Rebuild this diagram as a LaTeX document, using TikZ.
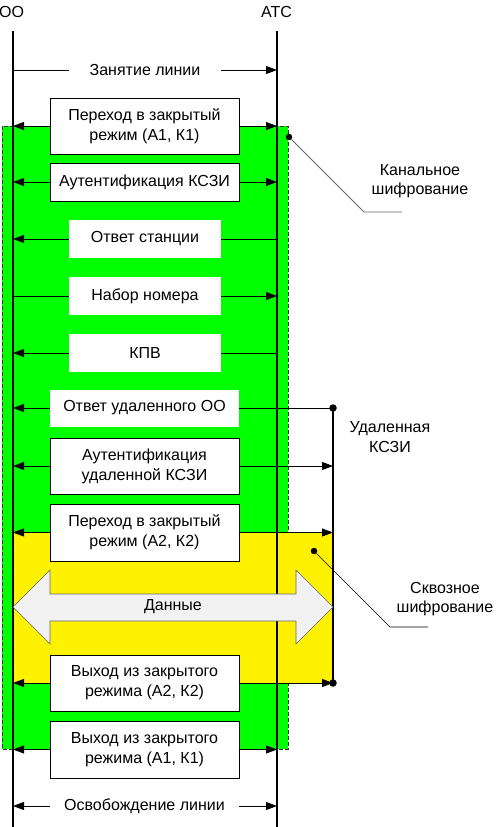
\documentclass[tikz,border=0pt]{standalone}
\usepackage{fontspec}
\setmainfont{Liberation Sans}
\usetikzlibrary{arrows.meta}
\begin{document}
\begin{tikzpicture}[x=1pt,y=-1pt,
  txt/.style={font=\fontsize{16}{20}\selectfont, align=center, inner sep=0pt},
  msgbox/.style={txt, draw=black, line width=0.8pt, fill=white, minimum width=189pt},
  plainbox/.style={txt, fill=white, minimum width=152pt, minimum height=38pt},
  wplainbox/.style={txt, fill=white, minimum width=189pt, minimum height=37pt},
  life/.style={line width=2.3pt},
  msg/.style={line width=0.8pt, -{Triangle[length=11pt,width=8pt]}},
  plainmsg/.style={line width=0.8pt},
  dotc/.style={fill=black, circle, inner sep=0pt, minimum size=7.5pt},
  lbl/.style={font=\fontsize{16}{19.5}\selectfont, align=center, inner sep=0pt}
]
\fill[white] (0,0) rectangle (496,827);
\useasboundingbox (0,0) rectangle (496,827);
% zones
\draw[fill={rgb,255:red,0;green,255;blue,0}, draw=black!80, line width=0.6pt, dash pattern=on 4pt off 2pt] (2,126) rectangle (288,749);
\fill[yellow] (13,532) rectangle (333,683);
% lifelines
\coordinate (ooT) at (13,31);
\coordinate (ooB) at (13,827);
\coordinate (atcT) at (277,31);
\coordinate (atcB) at (277,827);
\draw[life] (ooT) -- (ooB);
\draw[life] (atcT) -- (atcB);
\node[lbl] (oo) at (11.5,12) {ОО};
\node[lbl] (atc) at (276.5,12) {АТС};
% remote line
\coordinate (remT) at (333,408);
\coordinate (remB) at (333,683);
\draw[line width=1.2pt] (remT) -- (remB);
% data arrow
\draw[fill={rgb,255:red,242;green,242;blue,242}, draw=black!60, line width=0.6pt]
  (13,607) -- (50,570) -- (50,594) -- (296,594) -- (296,570) -- (333,607)
  -- (296,644) -- (296,621) -- (50,621) -- (50,644) -- cycle;
\node[lbl] (data) at (173,607) {Данные};
% messages
\node[txt, fill=white, minimum width=152pt, minimum height=20pt] (m0) at (145,70) {Занятие линии};
\draw[plainmsg] (m0.west -| ooT) -- (m0.west);
\draw[msg] (m0.east) -- (m0.east -| atcT);

\node[msgbox, minimum height=56pt] (m1) at (144.5,126) {Переход в закрытый\\режим (А1, К1)};
\draw[msg] (m1.west) -- (m1.west -| ooT);
\draw[msg] (m1.east) -- (m1.east -| atcT);

\node[msgbox, minimum height=38pt] (m2) at (144.5,182) {Аутентификация КСЗИ};
\draw[msg] (m2.west) -- (m2.west -| ooT);
\draw[msg] (m2.east) -- (m2.east -| atcT);

\node[plainbox] (m3) at (145,239) {Ответ станции};
\draw[msg] (m3.west) -- (m3.west -| ooT);
\draw[plainmsg] (m3.east -| atcT) -- (m3.east);

\node[plainbox] (m4) at (145,296) {Набор номера};
\draw[plainmsg] (m4.west -| ooT) -- (m4.west);
\draw[msg] (m4.east) -- (m4.east -| atcT);

\node[plainbox] (m5) at (145,353) {КПВ};
\draw[msg] (m5.west) -- (m5.west -| ooT);
\draw[plainmsg] (m5.east -| atcT) -- (m5.east);

\node[wplainbox] (m6) at (144.5,408) {Ответ удаленного ОО};
\draw[msg] (m6.west) -- (m6.west -| ooT);
\draw[plainmsg] (remT) -- (m6.east);

\node[msgbox, minimum height=56pt] (m7) at (144.5,466) {Аутентификация\\удаленной КСЗИ};
\draw[msg] (m7.west) -- (m7.west -| ooT);
\draw[msg] (m7.east) -- (m7.east -| remT);

\node[msgbox, minimum height=57pt] (m8) at (144.5,532.5) {Переход в закрытый\\режим (А2, К2)};
\draw[msg] (m8.west) -- (m8.west -| ooT);
\draw[msg] (m8.east) -- (m8.east -| remT);

\node[msgbox, minimum height=56pt] (m9) at (144.5,683) {Выход из закрытого\\режима (А2, К2)};
\draw[msg] (m9.west) -- (m9.west -| ooT);
\draw[msg] (m9.east) -- (m9.east -| remT);

\node[msgbox, minimum height=57pt] (m10) at (144.5,749.5) {Выход из закрытого\\режима (А1, К1)};
\draw[msg] (m10.west) -- (m10.west -| ooT);
\draw[msg] (m10.east) -- (m10.east -| atcT);

\node[txt, fill=white, minimum width=189pt, minimum height=20pt] (m11) at (144.5,806) {Освобождение линии};
\draw[msg] (m11.west) -- (m11.west -| ooT);
\draw[msg] (m11.east) -- (m11.east -| atcT);

% remote dots
\node[dotc] (d1) at (remT) {};
\node[dotc] (d2) at (remB) {};
\node[lbl] (rem) at (390,437) {Удаленная\\КСЗИ};

% callouts
\node[dotc, minimum size=6.5pt] (c1) at (289,137) {};
\coordinate (c1a) at (364,212);
\coordinate (c1b) at (402,212);
\draw[black!60, line width=0.8pt] (c1) -- (c1a) -- (c1b);
\node[lbl] (kan) at (420,181) {Канальное\\шифрование};

\node[dotc, minimum size=6.5pt] (c2) at (314,551) {};
\coordinate (c2a) at (390,627);
\coordinate (c2b) at (428,627);
\draw[black, line width=0.6pt] (c2) -- (c2a) -- (c2b);
\node[lbl] (skv) at (445,599) {Сквозное\\шифрование};
\end{tikzpicture}
\end{document}
